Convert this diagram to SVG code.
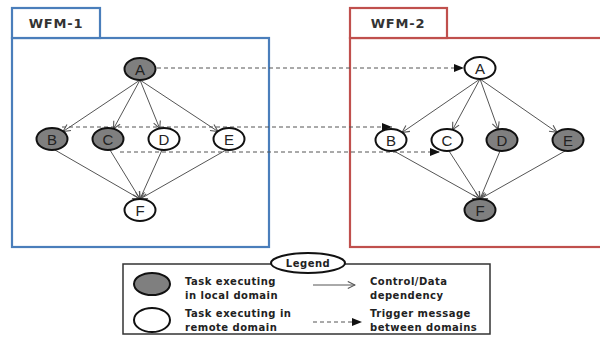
<svg xmlns="http://www.w3.org/2000/svg" width="600" height="337" viewBox="0 0 600 337">
<style>
.bg{fill:#fff}
.blue{fill:#fff;stroke:#4a7ebb;stroke-width:2.2}
.red{fill:#fff;stroke:#c0504d;stroke-width:2.2}
.tab{font-family:"DejaVu Sans",Verdana,sans-serif;font-weight:bold;font-size:13px;letter-spacing:0.8px;fill:#333;text-anchor:middle}
.loc{fill:#7f7f7f;stroke:#111;stroke-width:2}
.rem{fill:#fff;stroke:#111;stroke-width:2}
.lbl{font-family:"Liberation Sans",Arial,sans-serif;font-size:15px;fill:#222;text-anchor:middle}
.dep{stroke:#555;stroke-width:1;fill:none;marker-end:url(#open)}
.trg{stroke:#555;stroke-width:1;stroke-dasharray:4 3;fill:none;marker-end:url(#solid)}
.leg{font-family:"DejaVu Sans",Verdana,sans-serif;font-weight:bold;font-size:10px;letter-spacing:0.5px;fill:#222}
</style>
<defs>
<marker id="open" viewBox="0 0 10 10" refX="9" refY="5" markerWidth="9" markerHeight="9" markerUnits="userSpaceOnUse" orient="auto">
<path d="M1,1 L9,5 L1,9" fill="none" stroke="#555" stroke-width="1.2"/>
</marker>
<marker id="solid" viewBox="0 0 10 10" refX="10" refY="5" markerWidth="10" markerHeight="10" markerUnits="userSpaceOnUse" orient="auto">
<path d="M0,1 L10,5 L0,9 Z" fill="#111"/>
</marker>
</defs>
<rect class="bg" width="600" height="337"/>

<g id="wfm1">
<rect class="blue" x="12" y="38" width="257" height="209"/>
<rect class="blue" x="12" y="8" width="88" height="30"/>
<text class="tab" x="56" y="28">WFM-1</text>
</g>
<g id="wfm2">
<rect class="red" x="350" y="38" width="260" height="209"/>
<rect class="red" x="350" y="8" width="97" height="30"/>
<text class="tab" x="398" y="28">WFM-2</text>
</g>

<g id="connectors">
<line class="dep" x1="140" y1="80" x2="63" y2="131.5"/>
<line class="dep" x1="140" y1="80" x2="113.5" y2="128.8"/>
<line class="dep" x1="140" y1="80" x2="159.7" y2="128.5"/>
<line class="dep" x1="140" y1="80" x2="218" y2="131.5"/>
<line class="dep" x1="55" y1="150" x2="140" y2="199"/>
<line class="dep" x1="110" y1="150" x2="140" y2="199"/>
<line class="dep" x1="162" y1="150" x2="140" y2="199"/>
<line class="dep" x1="226" y1="150" x2="140" y2="199"/>

<line class="dep" x1="480" y1="79" x2="402" y2="132.5"/>
<line class="dep" x1="480" y1="79" x2="452.5" y2="129.8"/>
<line class="dep" x1="480" y1="79" x2="498.2" y2="129.4"/>
<line class="dep" x1="480" y1="79" x2="557" y2="132.4"/>
<line class="dep" x1="394" y1="151" x2="480" y2="199"/>
<line class="dep" x1="449" y1="151" x2="480" y2="199"/>
<line class="dep" x1="500" y1="151" x2="480" y2="199"/>
<line class="dep" x1="565" y1="151" x2="480" y2="199"/>

<line class="trg" x1="157" y1="68" x2="464" y2="68"/>
<line class="trg" x1="62" y1="127" x2="392" y2="127"/>
<line class="trg" x1="120" y1="152" x2="440" y2="152"/>
</g>

<g id="A1"><ellipse class="loc" cx="140" cy="69" rx="15.5" ry="11"/><text class="lbl" x="140" y="74.5">A</text></g>
<g id="B1"><ellipse class="loc" cx="52" cy="139" rx="15.5" ry="11"/><text class="lbl" x="52" y="144.5">B</text></g>
<g id="C1"><ellipse class="loc" cx="108" cy="139" rx="15.5" ry="11"/><text class="lbl" x="108" y="144.5">C</text></g>
<g id="D1"><ellipse class="rem" cx="164" cy="139" rx="15.5" ry="11"/><text class="lbl" x="164" y="144.5">D</text></g>
<g id="E1"><ellipse class="rem" cx="229" cy="139" rx="15.5" ry="11"/><text class="lbl" x="229" y="144.5">E</text></g>
<g id="F1"><ellipse class="rem" cx="140" cy="210" rx="15.5" ry="11"/><text class="lbl" x="140" y="215.5">F</text></g>

<g id="A2"><ellipse class="rem" cx="480" cy="68" rx="15.5" ry="11"/><text class="lbl" x="480" y="73.5">A</text></g>
<g id="B2"><ellipse class="rem" cx="391" cy="140" rx="15.5" ry="11"/><text class="lbl" x="391" y="145.5">B</text></g>
<g id="C2"><ellipse class="rem" cx="447" cy="140" rx="15.5" ry="11"/><text class="lbl" x="447" y="145.5">C</text></g>
<g id="D2"><ellipse class="loc" cx="502" cy="140" rx="15.5" ry="11"/><text class="lbl" x="502" y="145.5">D</text></g>
<g id="E2"><ellipse class="loc" cx="568" cy="140" rx="15.5" ry="11"/><text class="lbl" x="568" y="145.5">E</text></g>
<g id="F2"><ellipse class="loc" cx="480" cy="210" rx="15.5" ry="11"/><text class="lbl" x="480" y="215.5">F</text></g>

<g id="legend">
<rect x="123" y="264" width="367" height="70" fill="#fff" stroke="#333" stroke-width="1.5"/>
<ellipse cx="308" cy="263" rx="37" ry="10" fill="#fff" stroke="#111" stroke-width="2"/>
<text class="leg" x="308" y="267" text-anchor="middle" font-size="11" letter-spacing="0.8">Legend</text>
<ellipse class="loc" cx="152" cy="284" rx="18" ry="11"/>
<ellipse class="rem" cx="152" cy="320" rx="18" ry="12"/>
<text class="leg" x="185" y="285">Task executing</text>
<text class="leg" x="185" y="299">in local domain</text>
<text class="leg" x="185" y="317">Task executing in</text>
<text class="leg" x="185" y="331">remote domain</text>
<line class="dep" x1="313" y1="285" x2="355" y2="285"/>
<line class="trg" x1="313" y1="322" x2="362" y2="322"/>
<text class="leg" x="370" y="285">Control/Data</text>
<text class="leg" x="370" y="299">dependency</text>
<text class="leg" x="370" y="317">Trigger message</text>
<text class="leg" x="370" y="331">between domains</text>
</g>
</svg>
